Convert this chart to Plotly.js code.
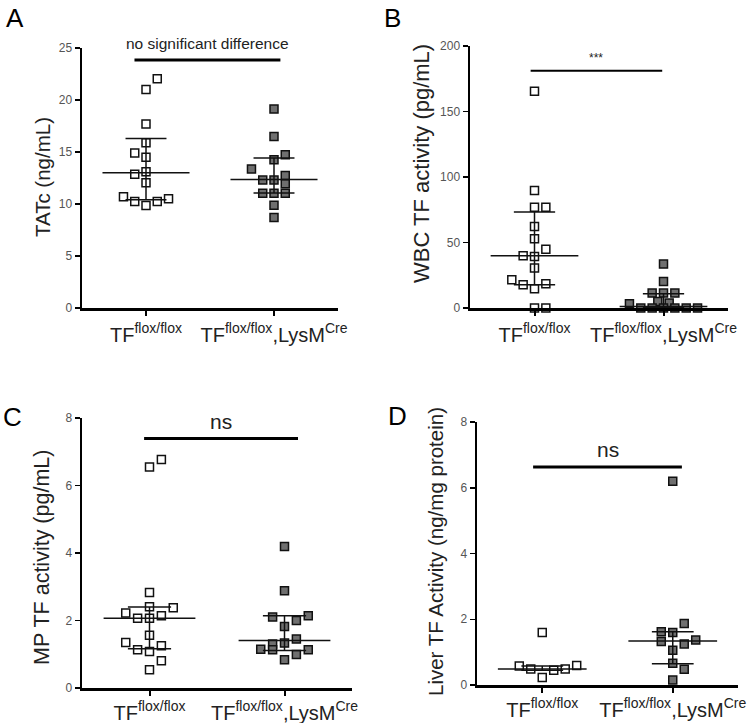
<!DOCTYPE html>
<html>
<head>
<meta charset="utf-8">
<script src="https://cdn.plot.ly/plotly-3.0.1.min.js"></script>
<style>html,body{margin:0;padding:0;background:#fff;}#chart{width:751px;height:723px;}</style>
</head>
<body>
<div id="chart"></div>
<script>
// ---------- data ----------
const categories = ['TF<sup>flox/flox</sup>', 'TF<sup>flox/flox</sup>,LysM<sup>Cre</sup>'];

// Panel A: TATc (ng/mL)
const aFloxVals = [22.05, 21.0, 17.7, 15.9, 14.9, 14.5, 12.85, 13.1, 12.05, 10.7, 10.25, 9.85, 10.25, 10.5];
const aFloxCols = [1, 0, 0, 0, -1, 0, -1, 0, 0, -2, -1, 0, 1, 2];
const aCreVals  = [19.13, 16.5, 13.37, 14.26, 14.74, 12.3, 12.3, 12.75, 11.95, 11.03, 11.03, 11.03, 9.87, 8.69];
const aCreCols  = [0, 0, -2, 0, 1, -1, 0, 1, 1, -1, 0, 1, 0, 0];
const aMedian = [13.0, 12.35];
const aQ1 = [10.4, 11.06];
const aQ3 = [16.3, 14.42];

// Panel B: WBC TF activity (pg/mL)
const bFloxVals = [165.5, 89.6, 76.9, 76.9, 62.2, 52.8, 44.9, 39.8, 39.3, 30.5, 21.6, 17.8, 18.5, 14.7, 0, 0];
const bFloxCols = [0, 0, 0, 1, 0, 0, 1, -1, 0, 0, -2, -1, 1, 0, 0, 1];
const bCreVals  = [33.5, 20.3, 11.4, 11.4, 11.4, 5.0, 3.8, 3.3, 0, 0, 0, 0, 0, 0];
const bCreCols  = [0, 0, -1, 0, 1, -0.5, 0.5, -3, -2, -1, 0, 1, 2, 3];
const bMedian = [39.8, 1.2];
const bQ1 = [17.8, 0.2];
const bQ3 = [73.3, 10.8];

// Panel C: MP TF activity (pg/mL)
const cFloxVals = [6.55, 6.77, 2.83, 2.41, 2.38, 2.22, 2.07, 2.07, 2.14, 1.56, 1.35, 1.13, 1.08, 1.25, 0.81, 0.54];
const cFloxCols = [0, 1, 0, 0, 2, -2, -1, 0, 1, 0, -2, -1, 0, 1, 1, 0];
const cCreVals  = [4.19, 2.88, 2.10, 2.0, 2.14, 1.82, 1.30, 1.33, 1.45, 1.15, 1.13, 1.13, 0.84, 0.99];
const cCreCols  = [0, 0, -1, 1, 2, 0, -1, 0, 1, -2, -1, 2, 0, 1];
const cMedian = [2.07, 1.41];
const cQ1 = [1.16, 1.11];
const cQ3 = [2.40, 2.14];

// Panel D: Liver TF Activity (ng/mg protein)
const dFloxVals = [1.60, 0.58, 0.49, 0.23, 0.45, 0.49, 0.59];
const dFloxCols = [0, -2, -1, 0, 1, 2, 3];
const dCreVals  = [6.2, 1.87, 1.62, 1.60, 1.32, 1.25, 1.37, 1.06, 0.66, 0.48, 0.15];
const dCreCols  = [0, 1, -1, 0, -1, 1, 2, 0, 0, 1, 0];
const dMedian = [0.49, 1.34];
const dQ1 = [0.45, 0.65];
const dQ3 = [0.58, 1.62];

// ---------- layout config ----------
const W = 751, H = 723;
const FONT = 'Liberation Sans, Arial, Helvetica, sans-serif';
const STEP = 0.088; // horizontal jitter step (category units)

const panels = [
  {letter:'A', title:'TATc (ng/mL)', titleSize:20.5, fv:aFloxVals, fc:aFloxCols, cv:aCreVals, cc:aCreCols, med:aMedian, q1:aQ1, q3:aQ3,
   x0:82, x1:338, yTop:48, yBot:308, ymax:25, dtick:5, letterPos:[15,18], titlePos:[42,177], standoff:2,
   sig:{x:[-0.09,1.05], y:23.85, w:3, text:'no significant difference', ty:24.4, size:15.5}},
  {letter:'B', title:'WBC TF activity (pg/mL)', titleSize:22, fv:bFloxVals, fc:bFloxCols, cv:bCreVals, cc:bCreCols, med:bMedian, q1:bQ1, q3:bQ3,
   x0:470, x1:728, yTop:46, yBot:308, ymax:200, dtick:50, letterPos:[392,18], titlePos:[422,163], standoff:2,
   sig:{x:[-0.03,0.99], y:181.2, w:2, text:'***', ty:184, size:12}},
  {letter:'C', title:'MP TF activity (pg/mL)', titleSize:21.5, fv:cFloxVals, fc:cFloxCols, cv:cCreVals, cc:cCreCols, med:cMedian, q1:cQ1, q3:cQ3,
   x0:82, x1:352, yTop:418, yBot:688, ymax:8, dtick:2, letterPos:[13,417], titlePos:[42,558], standoff:0,
   sig:{x:[-0.04,1.1], y:7.39, w:3, text:'ns', ty:7.5, size:21}},
  {letter:'D', title:'Liver TF Activity (ng/mg protein)', titleSize:20.5, fv:dFloxVals, fc:dFloxCols, cv:dCreVals, cc:dCreCols, med:dMedian, q1:dQ1, q3:dQ3,
   x0:477, x1:738, yTop:422, yBot:685, ymax:8, dtick:2, letterPos:[397,416], titlePos:[435,552], standoff:0,
   sig:{x:[-0.07,1.07], y:6.63, w:3, text:'ns', ty:6.75, size:21}}
];

const traces = [];
const layout = {
  width: W, height: H, margin:{l:0,r:0,t:0,b:0},
  paper_bgcolor:'#fff', plot_bgcolor:'rgba(0,0,0,0)', showlegend:false,
  font:{family:FONT, color:'#222'}, annotations:[]
};

panels.forEach((p, i) => {
  const n = i + 1;
  const xa = 'x' + (n === 1 ? '' : n), ya = 'y' + (n === 1 ? '' : n);
  const xk = 'xaxis' + (n === 1 ? '' : n), yk = 'yaxis' + (n === 1 ? '' : n);

  layout[xk] = {
    domain:[p.x0 / W, p.x1 / W], range:[-0.5, 1.5], anchor: ya,
    showline:true, linecolor:'#000', linewidth:2.5, mirror:false,
    showgrid:false, zeroline:false, ticks:'outside', ticklen:5, tickwidth:2, tickcolor:'#000',
    ticklabelstandoff:p.standoff,
    tickvals:[0,1], ticktext:categories, tickfont:{family:FONT, size:20, color:'#222'}, fixedrange:true
  };
  layout[yk] = {
    domain:[1 - p.yBot / H, 1 - p.yTop / H], range:[0, p.ymax], anchor: xa,
    showline:true, linecolor:'#000', linewidth:2.5,
    showgrid:false, zeroline:false, ticks:'outside', ticklen:5, tickwidth:1.5, tickcolor:'#000',
    dtick:p.dtick, tick0:0, tickfont:{family:FONT, size:12, color:'#555'}, fixedrange:true
  };

  // markers: control (open squares)
  traces.push({
    type:'scatter', mode:'markers', xaxis:xa, yaxis:ya, cliponaxis:false,
    x:p.fc.map(c => 0 + c * STEP), y:p.fv,
    marker:{symbol:'square', size:8, color:'#fff', line:{color:'#111', width:1.5}}
  });
  // markers: LysMCre (filled grey squares)
  traces.push({
    type:'scatter', mode:'markers', xaxis:xa, yaxis:ya, cliponaxis:false,
    x:p.cc.map(c => 1 + c * STEP), y:p.cv,
    marker:{symbol:'square', size:8, color:'#6f6f6f', line:{color:'#111', width:1.5}}
  });

  // summary lines: median (wide), IQR (narrow), vertical connector
  const lx = [], ly = [];
  [0,1].forEach(g => {
    lx.push(g - 0.34, g + 0.34, null); ly.push(p.med[g], p.med[g], null);
    lx.push(g - 0.16, g + 0.16, null); ly.push(p.q3[g], p.q3[g], null);
    lx.push(g - 0.16, g + 0.16, null); ly.push(p.q1[g], p.q1[g], null);
    lx.push(g, g, null); ly.push(p.q1[g], p.q3[g], null);
  });
  traces.push({
    type:'scatter', mode:'lines', xaxis:xa, yaxis:ya, cliponaxis:false,
    x:lx, y:ly, line:{color:'#111', width:1.5}, connectgaps:false
  });

  // significance bar
  traces.push({
    type:'scatter', mode:'lines', xaxis:xa, yaxis:ya, cliponaxis:false,
    x:p.sig.x, y:[p.sig.y, p.sig.y], line:{color:'#000', width:p.sig.w}
  });
  layout.annotations.push({
    xref:xa, yref:ya, x:(p.sig.x[0] + p.sig.x[1]) / 2, y:p.sig.ty,
    text:p.sig.text, showarrow:false, xanchor:'center', yanchor:'bottom',
    font:{family:FONT, size:p.sig.size, color:'#222'}
  });

  // panel letter
  layout.annotations.push({
    xref:'paper', yref:'paper', x:p.letterPos[0] / W, y:1 - p.letterPos[1] / H,
    text:p.letter, showarrow:false, xanchor:'center', yanchor:'middle',
    font:{family:FONT, size:26, color:'#000'}
  });
  // y-axis title
  layout.annotations.push({
    xref:'paper', yref:'paper', x:p.titlePos[0] / W, y:1 - p.titlePos[1] / H,
    text:p.title, showarrow:false, xanchor:'center', yanchor:'middle', textangle:-90,
    font:{family:FONT, size:p.titleSize, color:'#222'}
  });
});

Plotly.newPlot('chart', traces, layout, {displayModeBar:false, staticPlot:true});
</script>
</body>
</html>
